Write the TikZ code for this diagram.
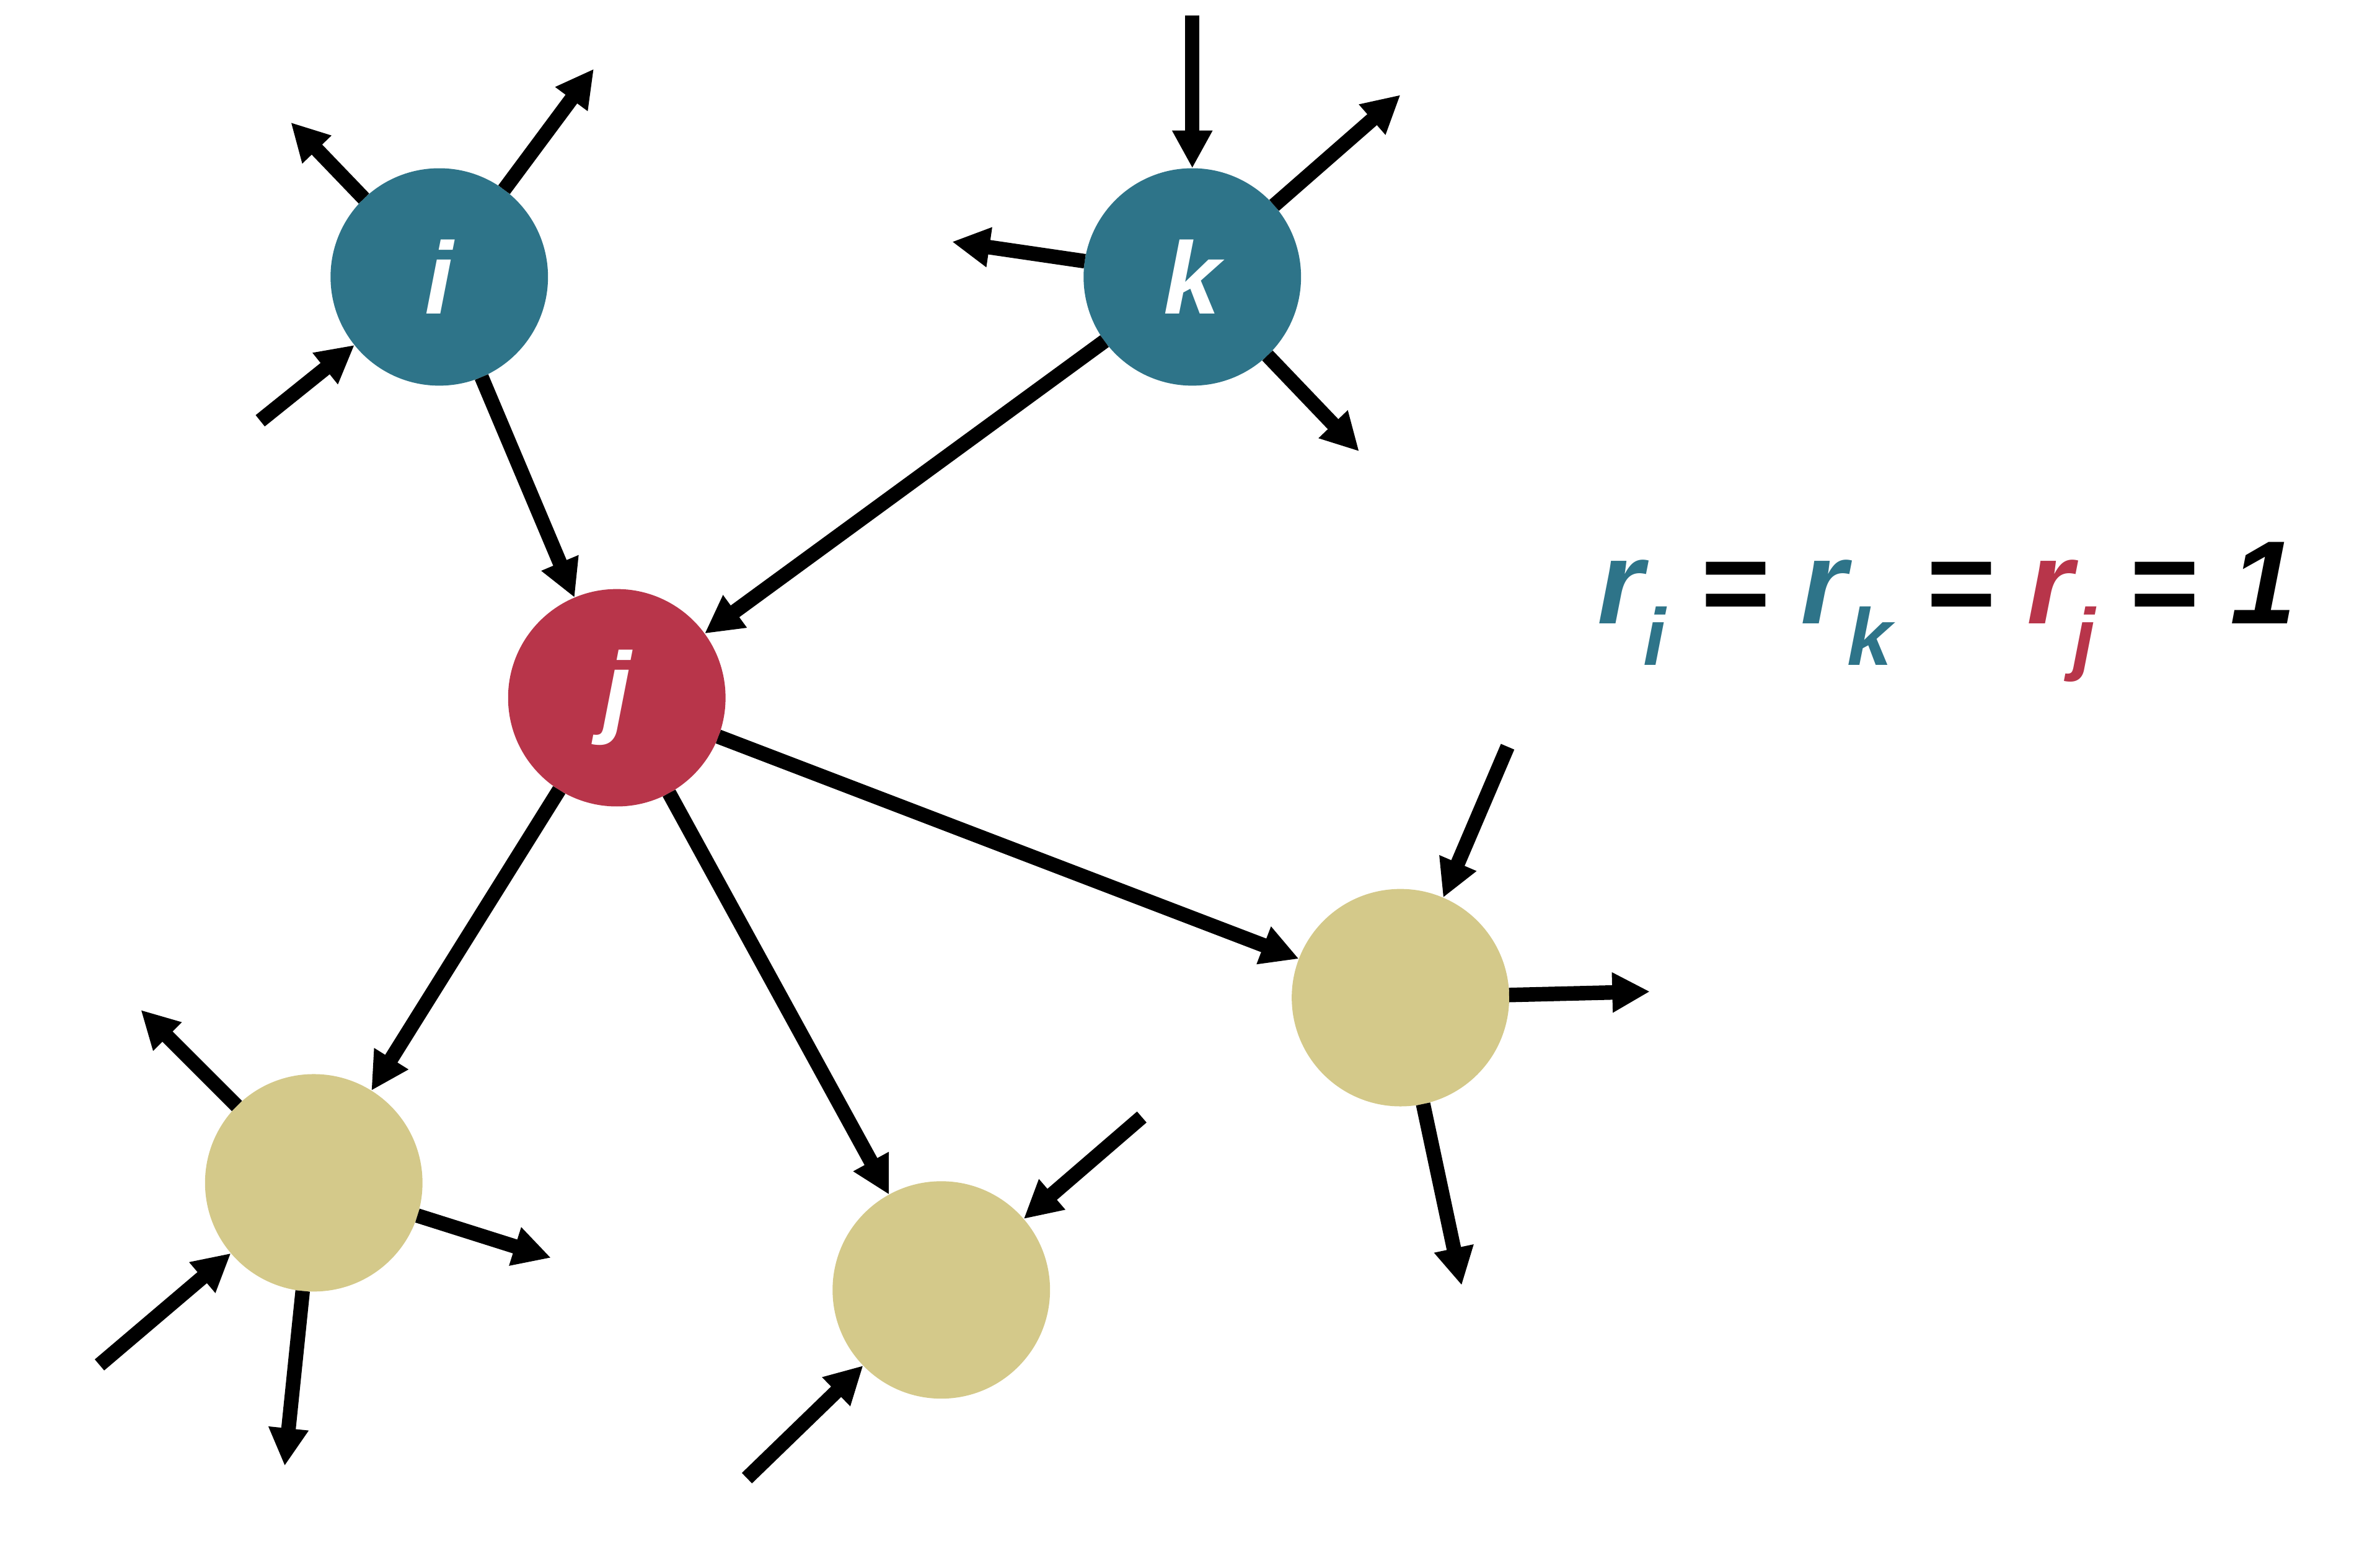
\documentclass[tikz,border=0pt]{standalone}
\usepackage{fontspec}
\setmainfont{Liberation Sans}
\usetikzlibrary{arrows.meta}
\definecolor{teal}{HTML}{2E7489}
\definecolor{crim}{HTML}{B8354A}
\definecolor{khaki}{HTML}{D4C98A}
\newcommand{\mysub}[1]{\raisebox{-0.35em}{\fontsize{15}{15}\selectfont #1}}
\begin{document}
\begin{tikzpicture}[x=0.01cm,y=-0.01cm,
  nd/.style={circle,minimum size=1.42cm,inner sep=0pt,outer sep=0pt,text=white,font=\fontsize{19}{19}\selectfont\bfseries\itshape},
  ar/.style={line width=2.7pt,-{Triangle[length=7pt,width=7pt]}}]
\useasboundingbox (0,0) rectangle (1555,1010);
\node[nd,fill=teal] (i) at (287,181) {i};
\node[nd,fill=teal] (k) at (779,181) {k};
\node[nd,fill=crim] (j) at (403,456) {j};
\node[nd,fill=khaki] (a) at (205,773) {};
\node[nd,fill=khaki] (b) at (615,843) {};
\node[nd,fill=khaki] (c) at (915,652) {};
\foreach \n/\x/\y in {i1/190/80,i2/388/45,i3/170/275,k1/779/10,k2/915/62,k3/622/158,k4/888/295,
 a1/92/660,a2/360/822,a3/65/892,a4/186/958,b1/746/730,b2/488/966,c1/985/488,c2/1078/648,c3/955/840}
 \coordinate (\n) at (\x,\y);
\draw[ar] (i) -- (i1); \draw[ar] (i) -- (i2); \draw[ar] (i3) -- (i);
\draw[ar] (k1) -- (k); \draw[ar] (k) -- (k2); \draw[ar] (k) -- (k3); \draw[ar] (k) -- (k4);
\draw[ar] (i) -- (j); \draw[ar] (k) -- (j);
\draw[ar] (j) -- (a); \draw[ar] (j) -- (b); \draw[ar] (j) -- (c);
\draw[ar] (a) -- (a1); \draw[ar] (a) -- (a2); \draw[ar] (a3) -- (a); \draw[ar] (a) -- (a4);
\draw[ar] (b1) -- (b); \draw[ar] (b2) -- (b);
\draw[ar] (c1) -- (c); \draw[ar] (c) -- (c2); \draw[ar] (c) -- (c3);
\node[font=\fontsize{22}{22}\selectfont\bfseries\itshape,anchor=center] (eq) at (1272,400)
 {\textcolor{teal}{r\mysub{i}} = \textcolor{teal}{r\mysub{k}} = \textcolor{crim}{r\mysub{j}} = 1};
\end{tikzpicture}
\end{document}
